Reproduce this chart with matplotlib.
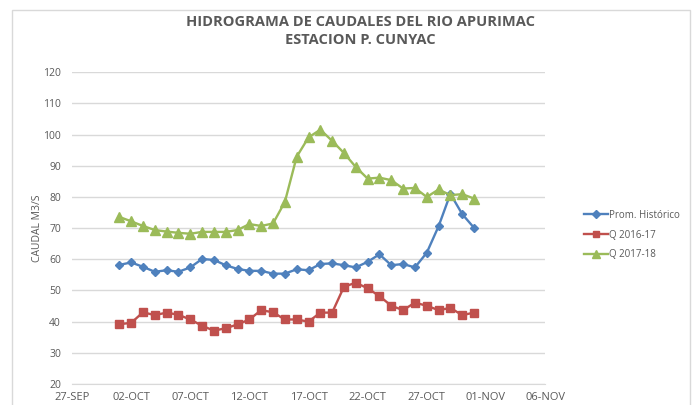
import numpy as np
import pandas as pd
import matplotlib
matplotlib.use('Agg')
import matplotlib.pyplot as plt
from matplotlib.patches import Rectangle

plt.rcParams['font.family'] = ['Open Sans', 'DejaVu Sans']

dias = pd.date_range('2017-10-01', '2017-10-31', freq='D')
prom_historico = [58.2, 59.0, 57.6, 56.0, 56.5, 56.0, 57.4, 60.1, 59.8, 58.1, 56.9, 56.3, 56.3, 55.4, 55.4, 56.8,
                  56.5, 58.5, 58.7, 58.1, 57.4, 59.2, 61.6, 58.1, 58.5, 57.4, 62.1, 70.6, 81.0, 74.5, 70.1]
q_2016_17 = [39.2, 39.6, 43.0, 42.1, 42.9, 42.2, 40.7, 38.7, 37.1, 37.9, 39.1, 40.7, 43.7, 43.0, 40.7, 40.7,
             40.0, 42.9, 42.9, 51.2, 52.5, 50.7, 48.2, 45.1, 43.7, 46.1, 45.1, 43.7, 44.4, 42.1, 42.9]
q_2017_18 = [73.6, 72.2, 70.7, 69.4, 68.9, 68.5, 68.2, 68.8, 68.8, 68.8, 69.4, 71.3, 70.7, 71.5, 78.4, 92.9,
             99.1, 101.6, 98.0, 94.1, 89.6, 85.9, 86.2, 85.4, 82.7, 82.9, 80.0, 82.4, 80.6, 80.9, 79.5]

tick_fechas = pd.date_range('2017-09-27', '2017-11-06', freq='5D')
tick_textos = ['27-SEP', '02-OCT', '07-OCT', '12-OCT', '17-OCT', '22-OCT', '27-OCT', '01-NOV', '06-NOV']

gris = '#595959'
fig = plt.figure(figsize=(6.97, 4.05), dpi=100)
fig.patches.append(Rectangle((12 / 697, -0.1), 678 / 697, 1.1 - 10 / 405, transform=fig.transFigure,
                             fill=False, edgecolor='#d9d9d9', linewidth=1))
ax = fig.add_axes([72 / 697, 1 - 384 / 405, 473 / 697, 311.7 / 405])

ax.plot(dias, prom_historico, color='#4F81BD', marker='D', markersize=4.5, linewidth=1.7, label='Prom. Histórico')
ax.plot(dias, q_2016_17, color='#C0504D', marker='s', markersize=5.5, linewidth=1.7, label='Q 2016-17')
ax.plot(dias, q_2017_18, color='#9BBB59', marker='^', markersize=6.5, linewidth=1.7, label='Q 2017-18')

ax.set_ylim(20, 120)
ax.set_yticks(np.arange(20, 121, 10))
ax.set_xlim(tick_fechas[0], tick_fechas[-1])
ax.set_xticks(tick_fechas)
ax.set_xticklabels(tick_textos)
ax.grid(axis='y', color='#d9d9d9', linewidth=1)
ax.set_axisbelow(True)
for s in ['top', 'right', 'left']:
    ax.spines[s].set_visible(False)
ax.spines['bottom'].set_color('#d9d9d9')
ax.tick_params(length=0, colors=gris, labelsize=7.5)
ax.tick_params(axis='x', labelsize=8, pad=6)
ax.tick_params(axis='y', pad=8)
ax.set_ylabel('CAUDAL M3/S', color=gris, fontsize=7.5, labelpad=0)

fig.text(0.517, 1 - 22 / 405, 'HIDROGRAMA DE CAUDALES DEL RIO APURIMAC', ha='center', va='center',
         fontsize=10.5, fontweight='bold', color=gris)
fig.text(0.517, 1 - 40 / 405, 'ESTACION P. CUNYAC', ha='center', va='center',
         fontsize=10.5, fontweight='bold', color=gris)

fig.legend(loc='center left', bbox_to_anchor=(575 / 697, 1 - 235 / 405), frameon=False, fontsize=7,
           labelcolor=gris, handlelength=2.5, handletextpad=0.1, labelspacing=0.9, markerscale=0.8)

fig.savefig('out.png', dpi=100)
